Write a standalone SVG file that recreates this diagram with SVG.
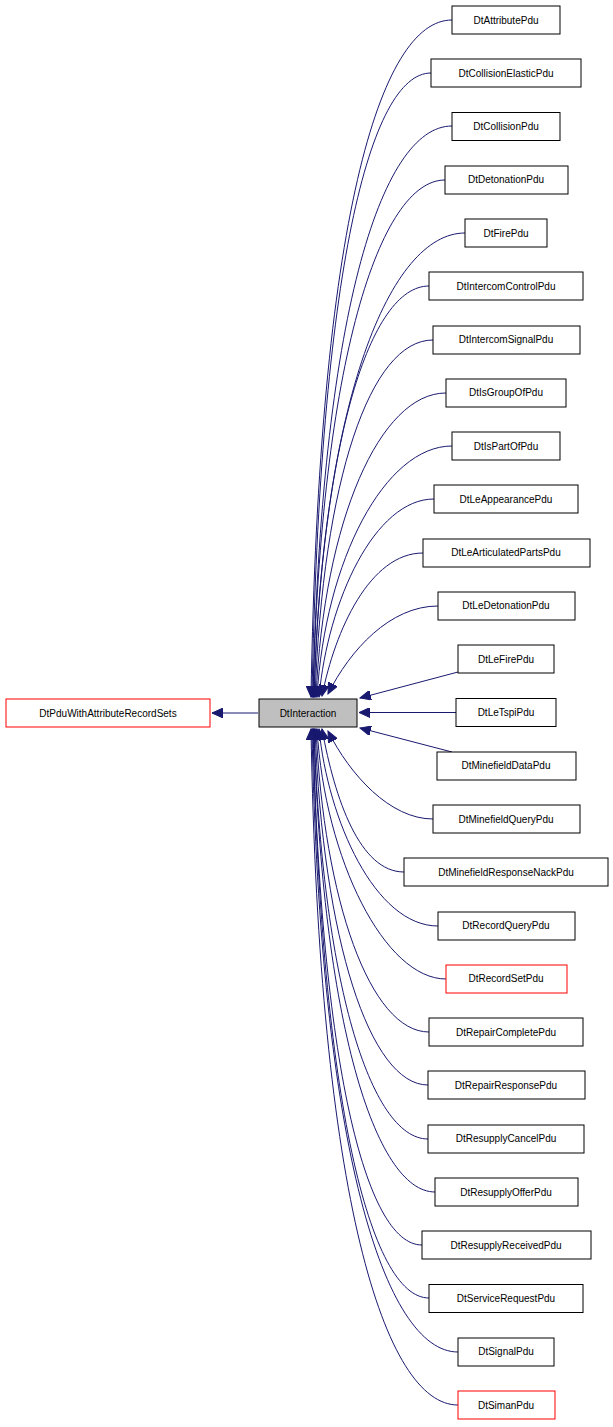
<svg xmlns="http://www.w3.org/2000/svg" width="613" height="1427" viewBox="0 0 613 1427">
<style>
.n rect{fill:#fff;stroke:#000;stroke-width:1}
.r rect{stroke:#f00}
text{font-family:"Liberation Sans",Arial,sans-serif;font-size:10px;text-anchor:middle;fill:#000}
.e path{fill:none;stroke:#191970;stroke-width:1;marker-end:url(#a)}
</style>
<defs><marker id="a" markerUnits="userSpaceOnUse" markerWidth="12" markerHeight="10" refX="11" refY="5" orient="auto"><path d="M0,0 L11,5 L0,10 Z" fill="#191970" stroke="#191970"/></marker></defs>
<g class="e">
<path d="M258,713 H212"/>
<path d="M458,672 L360,698"/>
<path d="M456,712.5 L359,712.5"/>
<path d="M452,752 L360,728"/>
<path d="M452,20 C380,20 319,220 311,697"/>
<path d="M431,73 C370,73 320,270 312,697"/>
<path d="M452,126 C380,126 321,320 313,697"/>
<path d="M445,180 C380,180 321,360 313,697"/>
<path d="M465,233 C390,233 322,400 314,697"/>
<path d="M429,286 C370,286 322,440 314,697"/>
<path d="M433,340 C370,340 323,480 315,697"/>
<path d="M446,393 C380,393 324,520 316,697"/>
<path d="M452,446 C385,446 325,560 317,697"/>
<path d="M434,499 C375,499 328,600 319,697"/>
<path d="M423,553 C370,553 335,630 322,696"/>
<path d="M438,606 C390,606 350,650 328,694"/>
<path d="M433,819 C390,819 350,775 328,731"/>
<path d="M404,872 C360,872 335,800 322,729"/>
<path d="M438,926 C375,926 328,820 319,729"/>
<path d="M446,979 C385,979 325,860 317,729"/>
<path d="M429,1032 C370,1032 324,900 316,729"/>
<path d="M428,1085 C370,1085 323,940 315,729"/>
<path d="M428,1139 C370,1139 322,980 314,729"/>
<path d="M435,1192 C375,1192 322,1020 314,729"/>
<path d="M422,1245 C365,1245 321,1060 313,729"/>
<path d="M429,1298 C370,1298 321,1100 313,729"/>
<path d="M458,1352 C385,1352 320,1150 312,729"/>
<path d="M458,1405 C385,1405 319,1200 311,729"/>
</g>
<g id="DtInteraction" class="n"><rect x="259" y="699" width="98" height="28" fill="#bfbfbf" style="fill:#bfbfbf"/><text x="308" y="716.5">DtInteraction</text></g>
<g id="DtPduWithAttributeRecordSets" class="n r"><rect x="6" y="699" width="204" height="28"/><text x="108" y="716.5">DtPduWithAttributeRecordSets</text></g>
<g id="DtAttributePdu" class="n"><rect x="452" y="6" width="108" height="28"/><text x="506" y="23.5">DtAttributePdu</text></g>
<g id="DtCollisionElasticPdu" class="n"><rect x="431" y="59" width="150" height="28"/><text x="506" y="76.8">DtCollisionElasticPdu</text></g>
<g id="DtCollisionPdu" class="n"><rect x="452" y="112.5" width="108" height="28"/><text x="506" y="130">DtCollisionPdu</text></g>
<g id="DtDetonationPdu" class="n"><rect x="445" y="166" width="123" height="28"/><text x="506" y="183.3">DtDetonationPdu</text></g>
<g id="DtFirePdu" class="n"><rect x="465" y="219" width="82" height="28"/><text x="506" y="236.6">DtFirePdu</text></g>
<g id="DtIntercomControlPdu" class="n"><rect x="429" y="272" width="154" height="28"/><text x="506" y="289.9">DtIntercomControlPdu</text></g>
<g id="DtIntercomSignalPdu" class="n"><rect x="433" y="326" width="147" height="28"/><text x="506" y="343.1">DtIntercomSignalPdu</text></g>
<g id="DtIsGroupOfPdu" class="n"><rect x="446" y="379" width="120" height="28"/><text x="506" y="396.4">DtIsGroupOfPdu</text></g>
<g id="DtIsPartOfPdu" class="n"><rect x="452" y="432" width="108" height="28"/><text x="506" y="449.7">DtIsPartOfPdu</text></g>
<g id="DtLeAppearancePdu" class="n"><rect x="434" y="485" width="144" height="28"/><text x="506" y="502.9">DtLeAppearancePdu</text></g>
<g id="DtLeArticulatedPartsPdu" class="n"><rect x="423" y="539" width="167" height="28"/><text x="506" y="556.2">DtLeArticulatedPartsPdu</text></g>
<g id="DtLeDetonationPdu" class="n"><rect x="438" y="592" width="137" height="28"/><text x="506" y="609.4">DtLeDetonationPdu</text></g>
<g id="DtLeFirePdu" class="n"><rect x="458" y="645" width="96" height="28"/><text x="506" y="662.7">DtLeFirePdu</text></g>
<g id="DtLeTspiPdu" class="n"><rect x="456" y="698.5" width="100" height="28"/><text x="506" y="716">DtLeTspiPdu</text></g>
<g id="DtMinefieldDataPdu" class="n"><rect x="437" y="752" width="139" height="28"/><text x="506" y="769.3">DtMinefieldDataPdu</text></g>
<g id="DtMinefieldQueryPdu" class="n"><rect x="433" y="805" width="147" height="28"/><text x="506" y="822.5">DtMinefieldQueryPdu</text></g>
<g id="DtMinefieldResponseNackPdu" class="n"><rect x="404" y="858" width="204" height="28"/><text x="506" y="875.8">DtMinefieldResponseNackPdu</text></g>
<g id="DtRecordQueryPdu" class="n"><rect x="438" y="912" width="137" height="28"/><text x="506" y="929.1">DtRecordQueryPdu</text></g>
<g id="DtRecordSetPdu" class="n r"><rect x="446" y="965" width="121" height="28"/><text x="506" y="982.4">DtRecordSetPdu</text></g>
<g id="DtRepairCompletePdu" class="n"><rect x="429" y="1018" width="154" height="28"/><text x="506" y="1035.6">DtRepairCompletePdu</text></g>
<g id="DtRepairResponsePdu" class="n"><rect x="428" y="1071" width="157" height="28"/><text x="506" y="1088.9">DtRepairResponsePdu</text></g>
<g id="DtResupplyCancelPdu" class="n"><rect x="428" y="1125" width="156" height="28"/><text x="506" y="1142.2">DtResupplyCancelPdu</text></g>
<g id="DtResupplyOfferPdu" class="n"><rect x="435" y="1178" width="143" height="28"/><text x="506" y="1195.5">DtResupplyOfferPdu</text></g>
<g id="DtResupplyReceivedPdu" class="n"><rect x="422" y="1231" width="169" height="28"/><text x="506" y="1248.7">DtResupplyReceivedPdu</text></g>
<g id="DtServiceRequestPdu" class="n"><rect x="429" y="1284.5" width="154" height="28"/><text x="506" y="1302">DtServiceRequestPdu</text></g>
<g id="DtSignalPdu" class="n"><rect x="458" y="1338" width="96" height="28"/><text x="506" y="1355.3">DtSignalPdu</text></g>
<g id="DtSimanPdu" class="n r"><rect x="458" y="1391" width="97" height="28"/><text x="506" y="1408.5">DtSimanPdu</text></g>
</svg>
